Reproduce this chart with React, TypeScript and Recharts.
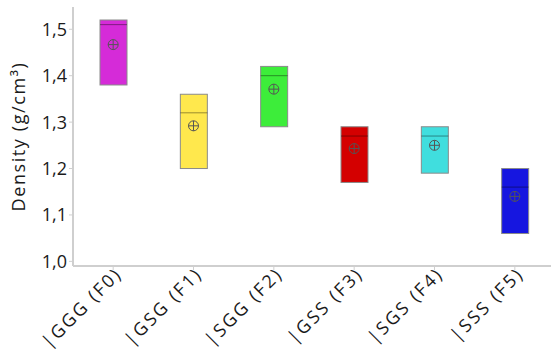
import React from 'react';
import { ComposedChart, Bar, Scatter, XAxis, YAxis, Label } from 'recharts';

const categories = ['|GGG (F0)', '|GSG (F1)', '|SGG (F2)', '|GSS (F3)', '|SGS (F4)', '|SSS (F5)'];
const lows = [1.38, 1.2, 1.29, 1.17, 1.19, 1.06];
const highs = [1.52, 1.36, 1.42, 1.29, 1.29, 1.2];
const medians = [1.51, 1.32, 1.4, 1.27, 1.27, 1.16];
const means = [1.467, 1.292, 1.371, 1.243, 1.25, 1.14];
const colors = ['#d52bd8', '#ffe84d', '#3ded3a', '#d40000', '#40dede', '#1616e0'];
const yTicks = [1.0, 1.1, 1.2, 1.3, 1.4, 1.5];

const data = categories.map((name, i) => ({
  name,
  range: [lows[i], highs[i]],
  low: lows[i],
  high: highs[i],
  median: medians[i],
  mean: means[i],
  color: colors[i],
}));

const FONT = "'Open Sans', sans-serif";
const AXIS_COLOR = '#cfcfcf';

const BoxShape = (props: any) => {
  const { x, y, width, height, payload } = props;
  const medY = y + (height * (payload.high - payload.median)) / (payload.high - payload.low);
  return (
    <g>
      <rect x={x} y={y} width={width} height={height} fill={payload.color} stroke="#8a8a8a" strokeWidth={1} />
      <line x1={x} x2={x + width} y1={medY} y2={medY} stroke="rgba(0,0,0,0.4)" strokeWidth={1} />
    </g>
  );
};

const MeanMarker = (props: any) => {
  const { cx, cy } = props;
  const r = 5;
  return (
    <g stroke="#555" strokeWidth={1} fill="none">
      <circle cx={cx} cy={cy} r={r} />
      <line x1={cx - r} x2={cx + r} y1={cy} y2={cy} />
      <line x1={cx} x2={cx} y1={cy - r} y2={cy + r} />
    </g>
  );
};

// rotated category labels, a bit letter-spaced like the source figure
const XTick = (props: any) => {
  const { x, y, payload } = props;
  return (
    <text
      x={0}
      y={0}
      transform={`translate(${x + 10},${y + 3}) rotate(-45)`}
      textAnchor="end"
      fontSize={18}
      letterSpacing={2.3}
      fontFamily={FONT}
      fill="#1a1a1a"
    >
      {payload.value}
    </text>
  );
};

const YLabel = (props: any) => {
  const { viewBox } = props;
  const cy = viewBox.y + viewBox.height / 2;
  return (
    <text
      x={0}
      y={0}
      transform={`translate(25,${cy}) rotate(-90)`}
      textAnchor="middle"
      fontSize={18}
      letterSpacing={1.6}
      fontFamily={FONT}
      fill="#1a1a1a"
    >
      Density (g/cm³)
    </text>
  );
};

const App: React.FC = () => {
  return (
    <div style={{ position: 'absolute', left: 0, top: 0, width: 551, height: 358, overflow: 'hidden', background: '#fff' }}>
      <ComposedChart width={555} height={358} data={data} margin={{ top: 7, right: 0, bottom: 0, left: 0 }}>
        <XAxis
          dataKey="name"
          height={92}
          tick={<XTick />}
          tickSize={4}
          axisLine={{ stroke: AXIS_COLOR, strokeWidth: 2 }}
          tickLine={{ stroke: AXIS_COLOR }}
          interval={0}
        />
        <XAxis
          xAxisId="top"
          orientation="top"
          dataKey="name"
          height={0}
          tick={false}
          tickLine={false}
          axisLine={{ stroke: AXIS_COLOR, strokeWidth: 2 }}
        />
        <YAxis
          type="number"
          domain={[0.99, 1.548]}
          ticks={yTicks}
          width={73}
          tickSize={4}
          tickFormatter={(v: number) => v.toFixed(1).replace('.', ',')}
          tick={{ fontSize: 18, fontFamily: FONT, fill: '#1a1a1a' }}
          axisLine={{ stroke: AXIS_COLOR, strokeWidth: 2 }}
          tickLine={{ stroke: AXIS_COLOR }}
          allowDataOverflow
        >
          <Label content={<YLabel />} />
        </YAxis>
        <Bar dataKey="range" barSize={27} shape={<BoxShape />} isAnimationActive={false} />
        <Scatter dataKey="mean" shape={<MeanMarker />} isAnimationActive={false} />
      </ComposedChart>
    </div>
  );
};

export default App;
